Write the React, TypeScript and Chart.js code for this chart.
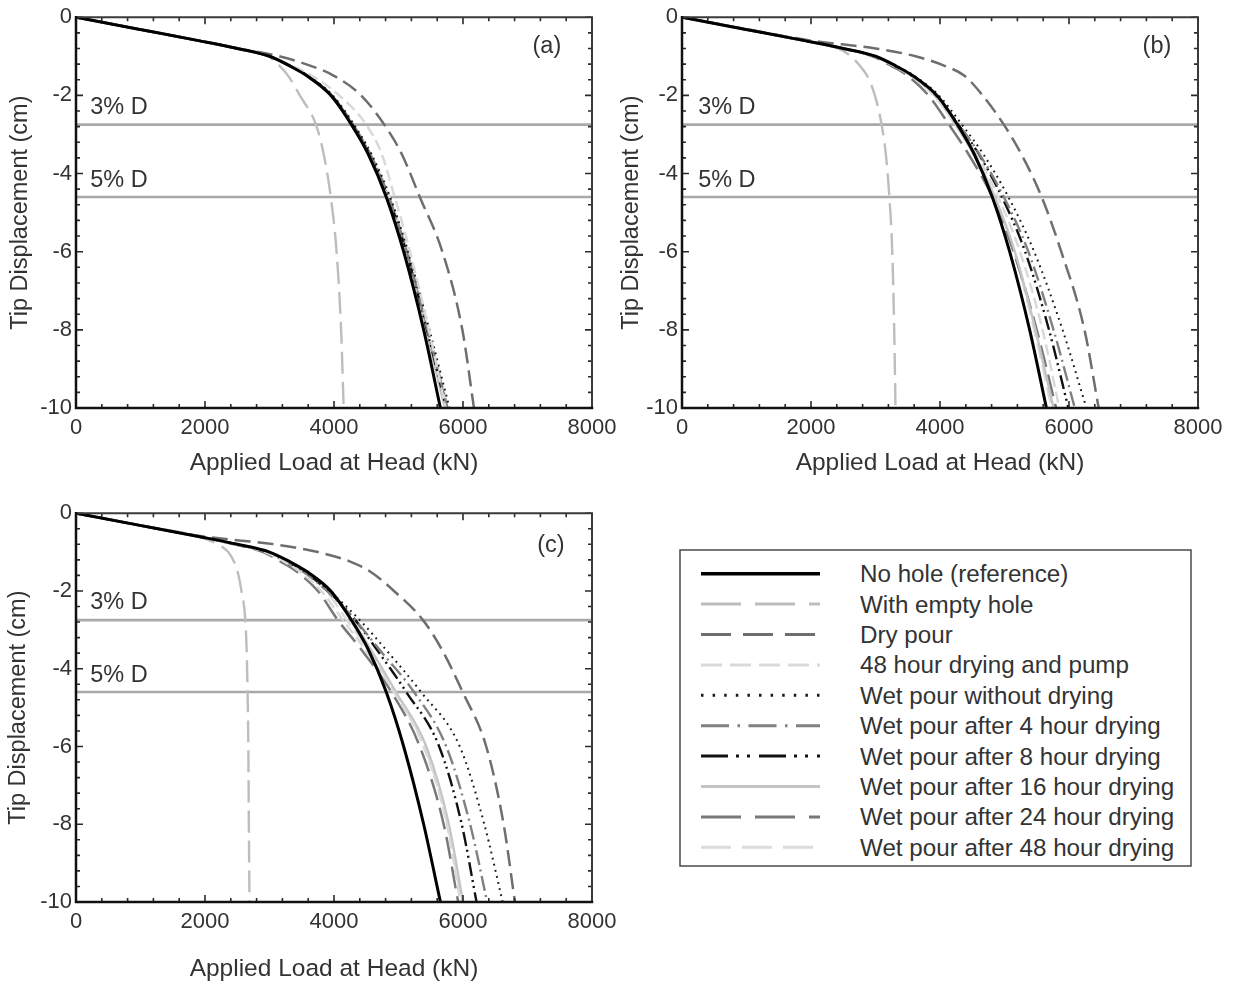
import React, { useEffect, useRef } from 'react';
import { Chart, registerables } from 'chart.js';

Chart.register(...registerables);

// ---------------- DATA ----------------
// Displacement levels (cm) at which every curve's load (kN) is read
const DISP_LEVELS = [0, -0.3, -0.6, -0.8, -1, -1.25, -1.5, -2, -2.75, -3.5, -4.6, -6, -8, -10];

const SERIES_NAMES = [
  'No hole (reference)',
  'With empty hole',
  'Dry pour',
  '48 hour drying and pump',
  'Wet pour without drying',
  'Wet pour after 4 hour drying',
  'Wet pour after 8 hour drying',
  'Wet pour after 16 hour drying',
  'Wet pour after 24 hour drying',
  'Wet pour after 48 hour drying',
];

// reference curve (same in all panels)
const noHole = [0, 950, 1900, 2500, 3000, 3320, 3580, 3950, 4270, 4530, 4810, 5080, 5390, 5650];

// panel (a)
const aEmpty = [0, 950, 1900, 2500, 2980, 3160, 3290, 3470, 3720, 3840, 3950, 4040, 4110, 4150];
const aDry = [0, 950, 1900, 2520, 3150, 3650, 4000, 4420, 4780, 5050, 5330, 5680, 5990, 6170];
const aPump48 = [0, 950, 1900, 2500, 3000, 3360, 3660, 4080, 4500, 4740, 4940, 5180, 5470, 5730];
const aWet0 = [0, 950, 1900, 2500, 3000, 3330, 3600, 3980, 4310, 4580, 4870, 5150, 5480, 5790];
const aWet4 = [0, 950, 1900, 2500, 3000, 3325, 3590, 3965, 4295, 4560, 4850, 5130, 5450, 5760];
const aWet8 = [0, 950, 1900, 2500, 3000, 3325, 3590, 3960, 4290, 4550, 4840, 5120, 5440, 5740];
const aWet16 = [0, 950, 1900, 2500, 3000, 3320, 3585, 3955, 4280, 4545, 4830, 5110, 5420, 5720];
const aWet24 = [0, 950, 1900, 2500, 2990, 3310, 3570, 3945, 4280, 4550, 4835, 5115, 5435, 5750];
const aWet48 = [0, 950, 1900, 2500, 3000, 3330, 3595, 3970, 4300, 4570, 4860, 5140, 5460, 5770];

// panel (b)
const bEmpty = [0, 950, 1900, 2420, 2620, 2760, 2870, 2990, 3095, 3160, 3215, 3260, 3290, 3310];
const bDry = [0, 980, 2000, 3000, 3620, 4080, 4380, 4660, 4990, 5260, 5576, 5880, 6240, 6460];
const bPump48 = [0, 950, 1900, 2500, 2980, 3290, 3550, 3900, 4250, 4560, 4900, 5240, 5590, 5850];
const bWet0 = [0, 950, 1900, 2500, 3000, 3330, 3600, 3980, 4340, 4670, 5060, 5460, 5900, 6270];
const bWet4 = [0, 950, 1900, 2500, 2980, 3300, 3560, 3930, 4290, 4610, 4990, 5370, 5760, 6090];
const bWet8 = [0, 950, 1900, 2500, 2990, 3310, 3570, 3940, 4285, 4600, 4960, 5320, 5690, 5990];
const bWet16 = [0, 950, 1900, 2500, 2990, 3300, 3560, 3920, 4240, 4520, 4850, 5160, 5480, 5760];
const bWet24 = [0, 950, 1900, 2480, 2950, 3250, 3500, 3820, 4140, 4440, 4810, 5140, 5500, 5800];
const bWet48 = [0, 950, 1900, 2500, 2990, 3300, 3560, 3930, 4250, 4520, 4840, 5150, 5460, 5730];

// panel (c)
const cEmpty = [0, 950, 1900, 2200, 2360, 2450, 2505, 2565, 2625, 2645, 2660, 2672, 2680, 2690];
const cDry = [0, 960, 1980, 3080, 3750, 4260, 4560, 4930, 5380, 5670, 5995, 6360, 6630, 6805];
const cPump48 = [0, 950, 1900, 2460, 2930, 3230, 3470, 3800, 4140, 4480, 4930, 5390, 5750, 5960];
const cWet0 = [0, 950, 1900, 2500, 2980, 3300, 3550, 3930, 4400, 4800, 5350, 5950, 6330, 6615];
const cWet4 = [0, 950, 1900, 2480, 2950, 3260, 3520, 3890, 4330, 4700, 5240, 5740, 6110, 6375];
const cWet8 = [0, 950, 1900, 2490, 2960, 3270, 3540, 3910, 4330, 4660, 5120, 5630, 5980, 6210];
const cWet16 = [0, 950, 1900, 2500, 2980, 3300, 3560, 3930, 4280, 4570, 4960, 5430, 5780, 6000];
const cWet24 = [0, 950, 1900, 2450, 2900, 3180, 3420, 3750, 4060, 4420, 4890, 5330, 5700, 5925];
const cWet48 = [0, 950, 1900, 2480, 2960, 3260, 3520, 3880, 4200, 4520, 4940, 5400, 5760, 5980];

// criteria lines
const THRESHOLD_VALUES = [-2.75, -4.6];
const THRESHOLD_LABELS = ['3% D', '5% D'];

// axes
const X_MIN = 0, X_MAX = 8000, X_MAJOR = 2000, X_MINOR = 400;
const Y_MIN = -10, Y_MAX = 0, Y_MAJOR = 2, Y_MINOR = 0.4;

const PANEL_TAGS = ['(a)', '(b)', '(c)'];
const PANEL_SERIES = [
  [noHole, aEmpty, aDry, aPump48, aWet0, aWet4, aWet8, aWet16, aWet24, aWet48],
  [noHole, bEmpty, bDry, bPump48, bWet0, bWet4, bWet8, bWet16, bWet24, bWet48],
  [noHole, cEmpty, cDry, cPump48, cWet0, cWet4, cWet8, cWet16, cWet24, cWet48],
];

// ---------------- STYLE ----------------
const FAMILY = '"Liberation Sans", Arial, Helvetica, sans-serif';
const TEXT = '#333333';

const SERIES_COLORS = ['#000000', '#bdbdbd', '#6e6e6e', '#d9d9d9', '#1a1a1a', '#808080', '#111111', '#c4c4c4', '#787878', '#dcdcdc'];
const SERIES_WIDTHS = [3, 2.4, 2.5, 2.4, 2, 2.4, 2.4, 2.4, 2.5, 2.4];
const PLOT_DASHES: number[][] = [
  [], [22, 8], [16, 7], [11, 5], [1.8, 4.4], [15, 4.5, 2, 4.5], [14, 4, 2, 4, 2, 4.5], [], [22, 8], [16, 6.5],
];
const LEGEND_DASHES: number[][] = [
  [], [40, 14], [30, 12], [21, 8], [2.5, 9.1], [28, 8.5, 2.5, 8.5], [27, 8, 3, 8, 3, 9], [], [40, 14], [30, 11],
];

const PANEL_LAYOUT = [
  { left: 0, top: 0, width: 630, height: 490, xAxisH: 82, yTitlePad: 6, xTitlePad: 12, tagX: 7300, tagY: -0.74, labX: 220 },
  { left: 606, top: 0, width: 630, height: 490, xAxisH: 82, yTitlePad: 11, xTitlePad: 12, tagX: 7364, tagY: -0.74, labX: 250 },
  { left: 0, top: 496, width: 630, height: 489, xAxisH: 83, yTitlePad: 4, xTitlePad: 1, tagX: 7364, tagY: -0.82, labX: 220 },
];
const THRESH_LABEL_Y = [-2.3, -4.17];

const decoPlugin = {
  id: 'panelDeco',
  afterDatasetsDraw(chart: any, _args: any, opts: any) {
    const { ctx, chartArea } = chart;
    const { left, right, top, bottom } = chartArea;
    const xs = chart.scales.x;
    const ys = chart.scales.y;
    ctx.save();
    // inward ticks on all four sides
    ctx.strokeStyle = '#2a2a2a';
    ctx.lineWidth = 1.6;
    ctx.beginPath();
    const nx = Math.round((X_MAX - X_MIN) / X_MINOR);
    for (let i = 0; i <= nx; i++) {
      const v = X_MIN + i * X_MINOR;
      const px = xs.getPixelForValue(v);
      const major = Math.abs(v / X_MAJOR - Math.round(v / X_MAJOR)) < 1e-6;
      const len = major ? 7 : 4;
      ctx.moveTo(px, bottom); ctx.lineTo(px, bottom - len);
      ctx.moveTo(px, top); ctx.lineTo(px, top + len);
    }
    const ny = Math.round((Y_MAX - Y_MIN) / Y_MINOR);
    for (let i = 0; i <= ny; i++) {
      const v = Y_MIN + i * Y_MINOR;
      const py = ys.getPixelForValue(v);
      const major = Math.abs(v / Y_MAJOR - Math.round(v / Y_MAJOR)) < 1e-6;
      const len = major ? 7 : 4;
      ctx.moveTo(left, py); ctx.lineTo(left + len, py);
      ctx.moveTo(right, py); ctx.lineTo(right - len, py);
    }
    ctx.stroke();
    // frame
    ctx.lineCap = 'square';
    ctx.strokeStyle = '#3a3a3a';
    ctx.lineWidth = 2;
    ctx.beginPath();
    ctx.moveTo(left, top); ctx.lineTo(right, top); ctx.lineTo(right, bottom);
    ctx.stroke();
    ctx.strokeStyle = '#111111';
    ctx.lineWidth = 2.5;
    ctx.beginPath();
    ctx.moveTo(left, top); ctx.lineTo(left, bottom); ctx.lineTo(right, bottom);
    ctx.stroke();
    // labels
    ctx.fillStyle = TEXT;
    ctx.font = `23.5px ${FAMILY}`;
    ctx.textBaseline = 'middle';
    ctx.textAlign = 'left';
    THRESHOLD_LABELS.forEach((t, i) => {
      ctx.fillText(t, xs.getPixelForValue(opts.labX), ys.getPixelForValue(THRESH_LABEL_Y[i]));
    });
    ctx.textAlign = 'center';
    ctx.fillText(opts.tag, xs.getPixelForValue(opts.tagX), ys.getPixelForValue(opts.tagY));
    ctx.restore();
  },
};

function buildDatasets(panelIdx: number) {
  const ds: any[] = PANEL_SERIES[panelIdx].map((loads, si) => ({
    label: SERIES_NAMES[si],
    data: loads.map((x, k) => ({ x, y: DISP_LEVELS[k] })),
    borderColor: SERIES_COLORS[si],
    borderWidth: SERIES_WIDTHS[si],
    borderDash: PLOT_DASHES[si],
    borderCapStyle: 'butt',
    pointRadius: 0,
    fill: false,
    cubicInterpolationMode: 'monotone',
  }));
  THRESHOLD_VALUES.forEach((v, i) => {
    ds.push({
      label: THRESHOLD_LABELS[i],
      data: [{ x: X_MIN, y: v }, { x: X_MAX, y: v }],
      borderColor: '#a9a9a9',
      borderWidth: 2.6,
      pointRadius: 0,
      fill: false,
    });
  });
  return ds;
}

function Panel({ idx }: { idx: number }) {
  const ref = useRef<HTMLCanvasElement | null>(null);
  const L = PANEL_LAYOUT[idx];
  useEffect(() => {
    if (!ref.current) return;
    const chart = new Chart(ref.current, {
      type: 'line',
      data: { datasets: buildDatasets(idx) },
      plugins: [decoPlugin],
      options: {
        animation: false,
        responsive: false,
        devicePixelRatio: 1,
        layout: { padding: { top: 17, right: 38, left: 0, bottom: 0 } },
        plugins: {
          legend: { display: false },
          tooltip: { enabled: false },
          panelDeco: { tag: PANEL_TAGS[idx], tagX: L.tagX, tagY: L.tagY, labX: L.labX },
        } as any,
        scales: {
          x: {
            type: 'linear',
            min: X_MIN,
            max: X_MAX,
            afterFit: (s: any) => { s.height = L.xAxisH; },
            grid: { display: false, drawTicks: false },
            border: { display: false },
            ticks: {
              stepSize: X_MAJOR,
              padding: 7,
              color: TEXT,
              font: { family: FAMILY, size: 22 },
              maxRotation: 0,
              autoSkip: false,
              callback: (v: any) => String(v),
            },
            title: {
              display: true,
              text: 'Applied Load at Head (kN)',
              color: TEXT,
              font: { family: FAMILY, size: 24.5 },
              padding: { top: 0, bottom: L.xTitlePad },
            },
          },
          y: {
            type: 'linear',
            min: Y_MIN,
            max: Y_MAX,
            afterFit: (s: any) => { s.width = 76; },
            grid: { display: false, drawTicks: false },
            border: { display: false },
            ticks: {
              stepSize: Y_MAJOR,
              padding: 4,
              color: TEXT,
              font: { family: FAMILY, size: 22 },
              callback: (v: any) => String(v),
            },
            title: {
              display: true,
              text: 'Tip Displacement (cm)',
              color: TEXT,
              font: { family: FAMILY, size: 23.5 },
              padding: { top: L.yTitlePad, bottom: 0 },
            },
          },
        },
      } as any,
    });
    return () => chart.destroy();
  }, [idx]);
  return (
    <canvas
      ref={ref}
      width={L.width}
      height={L.height}
      style={{ position: 'absolute', left: L.left, top: L.top, width: L.width, height: L.height }}
    />
  );
}

const LEGEND_BOX = { x: 680, y: 550, w: 511, h: 316 };
const LEGEND_ROW0 = 573.7;
const LEGEND_ROW_STEP = 30.4;
const LEGEND_LINE_X1 = 701;
const LEGEND_LINE_X2 = 820;
const LEGEND_TEXT_X = 860;

function Legend() {
  return (
    <svg
      width={1236}
      height={985}
      style={{ position: 'absolute', left: 0, top: 0, pointerEvents: 'none' }}
    >
      <rect
        x={LEGEND_BOX.x}
        y={LEGEND_BOX.y}
        width={LEGEND_BOX.w}
        height={LEGEND_BOX.h}
        fill="#ffffff"
        stroke="#555555"
        strokeWidth={1.6}
      />
      {SERIES_NAMES.map((name, i) => {
        const cy = LEGEND_ROW0 + i * LEGEND_ROW_STEP;
        return (
          <g key={name}>
            <line
              x1={LEGEND_LINE_X1}
              x2={LEGEND_LINE_X2}
              y1={cy}
              y2={cy}
              stroke={SERIES_COLORS[i]}
              strokeWidth={i === 0 ? 3.4 : 3}
              strokeDasharray={LEGEND_DASHES[i].length ? LEGEND_DASHES[i].join(' ') : undefined}
            />
            <text
              x={LEGEND_TEXT_X}
              y={cy}
              dominantBaseline="central"
              fontFamily={FAMILY}
              fontSize={24.2}
              fill={TEXT}
            >
              {name}
            </text>
          </g>
        );
      })}
    </svg>
  );
}

export default function App() {
  return (
    <div
      style={{
        position: 'absolute',
        left: 0,
        top: 0,
        width: 1236,
        height: 985,
        background: '#ffffff',
        overflow: 'hidden',
      }}
    >
      <Panel idx={0} />
      <Panel idx={1} />
      <Panel idx={2} />
      <Legend />
    </div>
  );
}
